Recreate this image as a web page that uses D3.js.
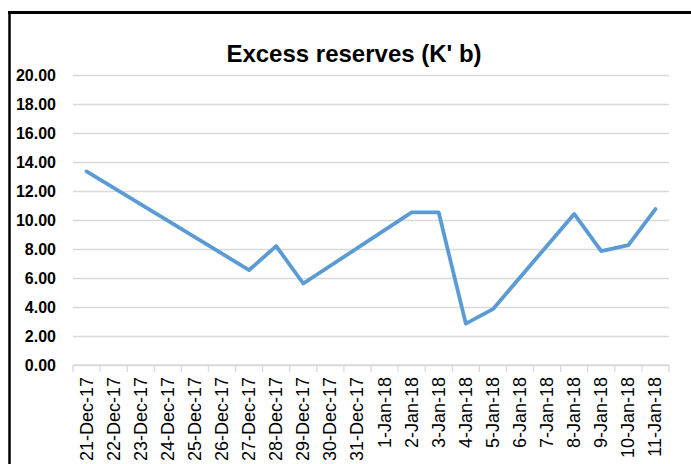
<!DOCTYPE html>
<html>
<head>
<meta charset="utf-8">
<script src="https://cdn.jsdelivr.net/npm/d3@7"></script>
<style>
  body { margin: 0; background: #fff; }
  svg { display: block; }
</style>
</head>
<body>
<svg id="chart" width="691" height="464"></svg>
<script>
var dates = ['21-Dec-17', '22-Dec-17', '23-Dec-17', '24-Dec-17', '25-Dec-17', '26-Dec-17',
  '27-Dec-17', '28-Dec-17', '29-Dec-17', '30-Dec-17', '31-Dec-17', '1-Jan-18', '2-Jan-18',
  '3-Jan-18', '4-Jan-18', '5-Jan-18', '6-Jan-18', '7-Jan-18', '8-Jan-18', '9-Jan-18',
  '10-Jan-18', '11-Jan-18']
// no data on weekends / holidays, the line is joined across the gaps
var reserves = [13.35, null, null, null, null, null, 6.55, 8.2, 5.62, null, null, null, 10.52,
  10.52, 2.85, 3.85, null, null, 10.42, 7.85, 8.27, 10.75]
var yTicks = [0, 2, 4, 6, 8, 10, 12, 14, 16, 18, 20]

var svg = d3.select('#chart'),
  font = '"Liberation Sans", Arial, sans-serif',
  plotL = 73, plotR = 669, plotT = 75, plotB = 365

var x = d3.scaleBand().domain(dates).range([plotL, plotR])
var y = d3.scaleLinear().domain([0, 20]).range([plotB, plotT])

// frame (only top and left edges are visible in the crop)
svg.append('line').attr('x1', 8).attr('x2', 691).attr('y1', 12.5).attr('y2', 12.5)
  .attr('stroke', '#000').attr('stroke-width', 3)
svg.append('line').attr('x1', 9.5).attr('x2', 9.5).attr('y1', 11).attr('y2', 464)
  .attr('stroke', '#000').attr('stroke-width', 2.5)

svg.append('text')
  .attr('x', 354).attr('y', 62)
  .attr('text-anchor', 'middle')
  .style('font-family', font).style('font-weight', 'bold').style('font-size', '24px')
  .text("Excess reserves (K' b)")

// gridlines + y labels
var yAxis = svg.append('g').attr('transform', 'translate(' + plotL + ',0)')
  .call(d3.axisLeft(y).tickValues(yTicks).tickSize(-(plotR - plotL)).tickPadding(17)
    .tickFormat(d3.format('.2f')))
yAxis.select('.domain').remove()
yAxis.selectAll('line').attr('stroke', '#d9d9d9').attr('stroke-width', 1.3)
yAxis.selectAll('text').style('font-family', font).style('font-weight', 'bold')
  .style('font-size', '16px').attr('fill', '#000')

// category axis, ticks between categories
var xAxis = svg.append('g').attr('transform', 'translate(0,' + plotB + ')')
xAxis.append('line').attr('x1', plotL).attr('x2', plotR).attr('stroke', '#d9d9d9').attr('stroke-width', 1.3)
xAxis.selectAll('.tk')
  .data(dates.concat(['end']))
  .enter().append('line')
  .attr('class', 'tk')
  .attr('x1', function (d, i) { return i < dates.length ? x(d) : plotR })
  .attr('x2', function (d, i) { return i < dates.length ? x(d) : plotR })
  .attr('y1', 0).attr('y2', 7)
  .attr('stroke', '#d9d9d9').attr('stroke-width', 1.3)
xAxis.selectAll('.lbl')
  .data(dates)
  .enter().append('text')
  .attr('class', 'lbl')
  .attr('transform', function (d) {
    return 'translate(' + (x(d) + x.bandwidth() / 2 + 6) + ',12) rotate(-90)'
  })
  .attr('text-anchor', 'end')
  .style('font-family', font).style('font-size', '18px')
  .text(function (d) { return d })

var pts = dates.map(function (d, i) { return { date: d, v: reserves[i] } })
  .filter(function (p) { return p.v !== null })

var line = d3.line()
  .x(function (p) { return x(p.date) + x.bandwidth() / 2 })
  .y(function (p) { return y(p.v) })

svg.append('path')
  .datum(pts)
  .attr('d', line)
  .attr('fill', 'none')
  .attr('stroke', '#5b9bd5')
  .attr('stroke-width', 3.8)
  .attr('stroke-linejoin', 'round')
  .attr('stroke-linecap', 'round')
</script>
</body>
</html>
